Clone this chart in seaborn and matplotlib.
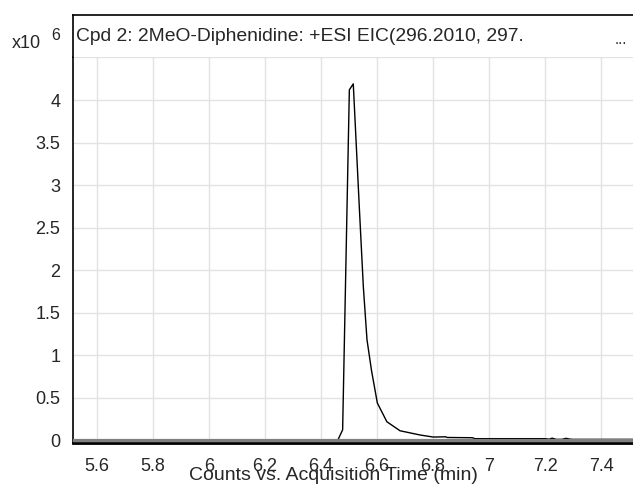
import matplotlib
matplotlib.use("Agg")
import matplotlib.pyplot as plt
import seaborn as sns
import pandas as pd

# ---------------------------------------------
# Data (counts in 1e6)
# ---------------------------------------------
time_min = [5.51, 6.00, 6.46, 6.477, 6.501, 6.515, 6.537, 6.551, 6.564,
            6.580, 6.601, 6.635, 6.682, 6.754, 6.801, 6.845, 6.85, 6.94,
            6.95, 7.20, 7.215, 7.225, 7.24, 7.26, 7.275, 7.29, 7.30, 7.52]
counts_1e6 = [0, 0, 0, 0.12, 4.12, 4.19, 2.71, 1.80, 1.18,
              0.82, 0.435, 0.215, 0.109, 0.059, 0.035, 0.038, 0.03, 0.027,
              0.016, 0.016, 0.010, 0.022, 0.008, 0.008, 0.020, 0.010, 0.008, 0.008]

x_ticks = [5.6, 5.8, 6.0, 6.2, 6.4, 6.6, 6.8, 7.0, 7.2, 7.4]
x_tick_labels = ["5.6", "5.8", "6", "6.2", "6.4", "6.6", "6.8", "7", "7.2", "7.4"]
y_ticks = [0, 0.5, 1, 1.5, 2, 2.5, 3, 3.5, 4, 4.5]
y_tick_labels = ["0", "0.5", "1", "1.5", "2", "2.5", "3", "3.5", "4", ""]

title_text = "Cpd 2: 2MeO-Diphenidine: +ESI EIC(296.2010, 297."
x_label = "Counts vs. Acquisition Time (min)"

# ---------------------------------------------
# Style
# ---------------------------------------------
sns.set_style("white")
plt.rcParams["font.family"] = ["Liberation Sans", "DejaVu Sans"]

fig = plt.figure(figsize=(6.33, 4.84), dpi=100)
ax = fig.add_axes([0.1153, 0.0847, 0.8847, 0.7965])
head = fig.add_axes([0.1153, 0.8812, 0.8847, 0.0878])

# ---------------------------------------------
# Trace
# ---------------------------------------------
df = pd.DataFrame({"time": time_min, "counts": counts_1e6})
sns.lineplot(data=df, x="time", y="counts", ax=ax, color="black",
             lw=1.0, zorder=3, estimator=None, sort=False)
ax.axhline(0, color="#7f7f7f", lw=2.3, zorder=4)

ax.set_xlim(5.514, 7.514)
ax.set_ylim(-0.035, 4.5)
ax.set_xticks(x_ticks)
ax.set_xticklabels(x_tick_labels)
ax.set_yticks(y_ticks)
ax.set_yticklabels(y_tick_labels)
ax.grid(True, color="#e2e2e2", lw=1.0)
ax.set_axisbelow(True)
ax.set_xlabel("")
ax.set_ylabel("")

ax.tick_params(axis="x", length=4, width=1, color="#333333", pad=7, labelsize=13)
ax.tick_params(axis="y", length=4, width=1, color="#333333", pad=5, labelsize=13)

for s in ["top", "right"]:
    ax.spines[s].set_visible(False)
ax.spines["left"].set_color("black")
ax.spines["left"].set_linewidth(1.2)
ax.spines["bottom"].set_color("black")
ax.spines["bottom"].set_linewidth(2.0)

# ---------------------------------------------
# Header band with title
# ---------------------------------------------
head.set_xticks([])
head.set_yticks([])
for s in ["right", "bottom"]:
    head.spines[s].set_visible(False)
for s in ["left", "top"]:
    head.spines[s].set_color("black")
    head.spines[s].set_linewidth(1.2)
head.text(0.006, 0.5, title_text, ha="left", va="center", fontsize=13.9,
          transform=head.transAxes)
head.text(0.99, 0.42, "...", ha="right", va="center", fontsize=11,
          transform=head.transAxes)

fig.text(12 / 633, 1 - 44 / 484, "x10", ha="left", va="center", fontsize=13)
fig.text(56 / 633, 1 - 36 / 484, "6", ha="center", va="center", fontsize=11.5)

fig.text(333 / 633, 1 - 475 / 484, x_label, ha="center", va="center", fontsize=14)

fig.savefig("out.png", dpi=100)
plt.close(fig)
